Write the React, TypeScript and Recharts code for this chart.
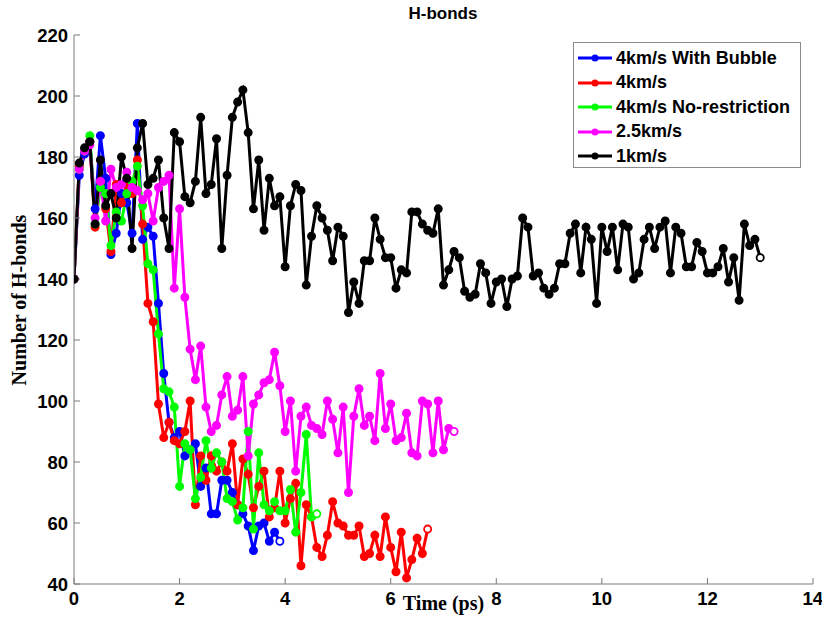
import { LineChart, Line, XAxis, YAxis } from "recharts"

// sampled every 0.1 ps
const STEP = 0.1

const withBubble = [
  140, 174, 181, 185, 163, 187, 173, 148, 155, 168,
  165, 155, 191, 153, 157, 154, 132, 109, 93, 88,
  90, 82, 84, 86, 72, 78, 63, 63, 74, 74,
  70, 66, 63, 59, 51, 59, 60, 54, 57, 54,
]
const fourKm = [
  140, 177, 182, 185, 157, 172, 163, 149, 171, 165,
  171, 168, 179, 158, 132, 126, 99, 88, 93, 87,
  86, 90, 100, 66, 82, 74, 82, 77, 80, 77,
  86, 66, 81, 76, 65, 72, 77, 62, 65, 77,
  60, 68, 73, 46, 66, 62, 52, 49, 56, 67,
  60, 59, 56, 56, 59, 49, 50, 56, 49, 62,
  52, 44, 57, 42, 48, 55, 50, 58,
]
const noRestriction = [
  140, 176, 182, 187, 158, 170, 168, 151, 162, 159,
  168, 172, 177, 164, 145, 143, 122, 104, 103, 98,
  72, 86, 84, 68, 75, 87, 78, 83, 80, 68,
  67, 61, 65, 90, 58, 83, 66, 64, 67, 64,
  64, 71, 57, 70, 89, 62, 63,
]
const twoFiveKm = [
  140, 176, 182, 184, 160, 172, 159, 176, 170, 171,
  175, 170, 169, 166, 168, 159, 170, 172, 174, 137,
  163, 134, 117, 107, 118, 98, 90, 92, 102, 108,
  95, 97, 108, 82, 99, 102, 106, 107, 116, 105,
  90, 100, 77, 95, 98, 92, 91, 89, 100, 94,
  83, 98, 70, 95, 104, 92, 95, 87, 109, 91,
  99, 87, 88, 96, 83, 82, 100, 99, 83, 100,
  84, 91, 90,
]
const oneKm = [
  140, 178, 183, 185, 158, 179, 164, 168, 160, 180,
  173, 150, 183, 191, 171, 173, 179, 160, 150, 188,
  185, 167, 165, 172, 193, 168, 171, 186, 150, 174,
  193, 198, 202, 188, 163, 179, 156, 173, 164, 167,
  144, 164, 171, 169, 138, 154, 164, 160, 156, 146,
  157, 154, 129, 139, 132, 146, 146, 160, 153, 147,
  147, 137, 143, 142, 162, 162, 158, 156, 155, 163,
  138, 143, 149, 147, 136, 134, 135, 145, 142, 132,
  139, 140, 131, 140, 141, 160, 157, 141, 142, 137,
  135, 137, 145, 145, 155, 158, 142, 157, 153, 132,
  157, 149, 157, 143, 158, 157, 140, 142, 153, 157,
  150, 157, 159, 142, 157, 155, 144, 144, 152, 149,
  142, 142, 144, 150, 139, 147, 133, 158, 151, 153,
  147,
]

const xTicks = [0, 2, 4, 6, 8, 10, 12, 14]
const yTicks = [40, 60, 80, 100, 120, 140, 160, 180, 200, 220]

const series = [
  { name: "4km/s With Bubble", color: "#0000ff", values: withBubble },
  { name: "4km/s", color: "#ff0000", values: fourKm },
  { name: "4km/s No-restriction", color: "#00ff00", values: noRestriction },
  { name: "2.5km/s", color: "#ff00ff", values: twoFiveKm },
  { name: "1km/s", color: "#000000", values: oneKm },
]

const toRows = (vals: number[]) => vals.map((v, i) => ({ t: Math.round(i * STEP * 10) / 10, v }))

const SANS = "'Liberation Sans', Arial, sans-serif"
const SERIF = "'Liberation Serif', 'Times New Roman', serif"
const AXIS = "#7a7a7a"

const makeDot = (color: string, n: number) => (p: any) => (
  <circle key={p.index} cx={p.cx} cy={p.cy} r={3.6}
    fill={p.index === n - 1 ? "#fff" : color} stroke={color} strokeWidth={1.8} />
)

const tickStyle = { fill: "#000", fontSize: 18.5, fontWeight: 700, fontFamily: SANS }

export default function App() {
  return (
    <div style={{ position: "absolute", left: 0, top: 0, width: 822, height: 641, background: "#fff" }}>
      <LineChart width={822} height={641} margin={{ top: 35, right: 9, bottom: 0, left: 0 }}>
        <XAxis xAxisId="b" dataKey="t" type="number" domain={[0, 14]} ticks={xTicks} height={57}
          stroke={AXIS} tickSize={-6} tickMargin={14} tick={tickStyle} allowDataOverflow />
        <XAxis xAxisId="top" orientation="top" dataKey="t" type="number" domain={[0, 14]} ticks={xTicks}
          height={0} stroke={AXIS} tickSize={-6} tickFormatter={() => ""} allowDataOverflow />
        <YAxis yAxisId="l" type="number" domain={[40, 220]} ticks={yTicks} width={74}
          stroke={AXIS} tickSize={-6} tickMargin={12} tick={tickStyle} allowDataOverflow />
        <YAxis yAxisId="r" orientation="right" type="number" domain={[40, 220]} ticks={yTicks} width={0}
          stroke={AXIS} tickSize={-6} tickFormatter={() => ""} allowDataOverflow />
        {series.map(s => (
          <Line key={s.name} xAxisId="b" yAxisId="l" data={toRows(s.values)} dataKey="v" name={s.name}
            stroke={s.color} strokeWidth={3} dot={makeDot(s.color, s.values.length)}
            activeDot={false} isAnimationActive={false} />
        ))}
      </LineChart>

      <div style={{ position: "absolute", left: 0, width: 822, top: 4, textAlign: "center", paddingLeft: 64,
        boxSizing: "border-box", fontFamily: SANS, fontWeight: 700, fontSize: 17, color: "#000" }}>H-bonds</div>

      <div style={{ position: "absolute", left: 74, width: 739, top: 592, textAlign: "center",
        fontFamily: SERIF, fontWeight: 700, fontSize: 20, color: "#000" }}>Time (ps)</div>

      <div style={{ position: "absolute", left: 19, top: 300, transform: "translate(-50%, -50%) rotate(-90deg)",
        whiteSpace: "nowrap", fontFamily: SERIF, fontWeight: 700, fontSize: 20, color: "#000" }}>Number of H-bonds</div>

      <div style={{ position: "absolute", left: 573, top: 42, width: 228, height: 126, border: "1px solid #8a8a8a",
        background: "#fff", boxSizing: "border-box", paddingTop: 3 }}>
        {series.map(s => (
          <div key={s.name} style={{ display: "flex", alignItems: "center", height: 24.5 }}>
            <svg width={40} height={12} style={{ marginLeft: 2 }}>
              <line x1={2} y1={6} x2={36} y2={6} stroke={s.color} strokeWidth={3} />
              <circle cx={19} cy={6} r={3.5} fill={s.color} />
            </svg>
            <span style={{ fontFamily: SANS, fontWeight: 700, fontSize: 18, color: "#000", whiteSpace: "nowrap" }}>{s.name}</span>
          </div>
        ))}
      </div>
    </div>
  )
}
